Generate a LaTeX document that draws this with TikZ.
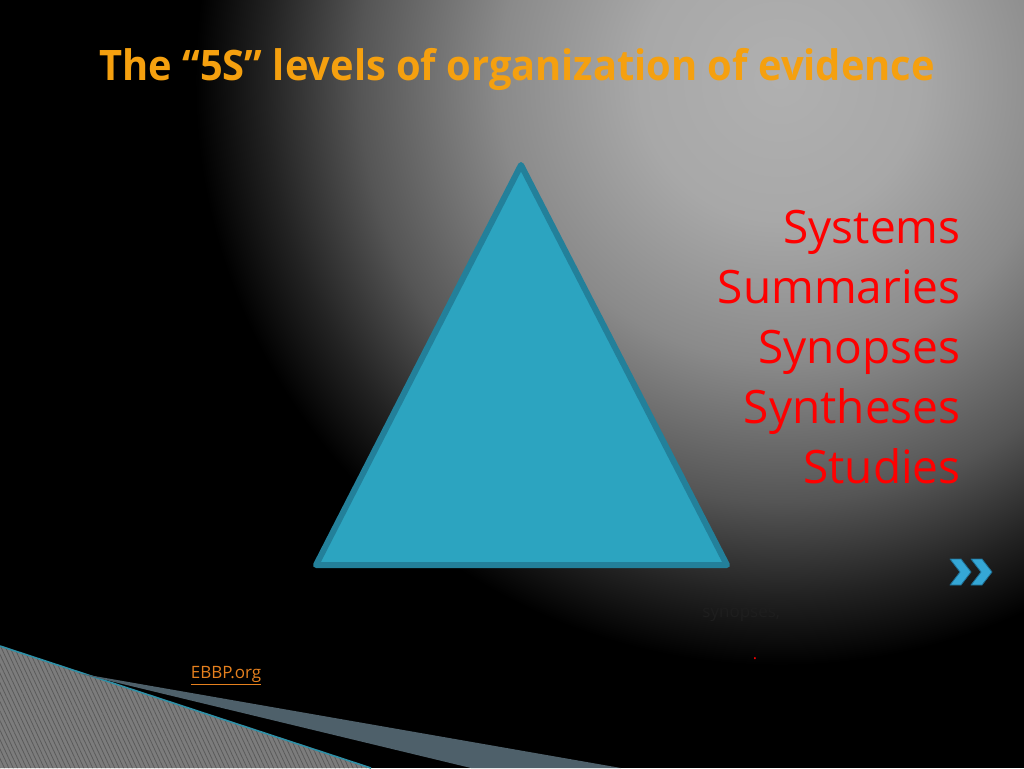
\documentclass[tikz,border=0pt]{standalone}
\usepackage{fontspec}
\setmainfont{Open Sans}
\usetikzlibrary{matrix, patterns.meta}

\definecolor{titleorange}{HTML}{F5A00F}
\definecolor{pyramidfill}{HTML}{2CA4C0}
\definecolor{pyramidedge}{HTML}{23809A}
\definecolor{levelred}{HTML}{FF0000}
\definecolor{slatestrip}{HTML}{4E606A}
\definecolor{hatchgrey}{HTML}{7C7C7C}
\definecolor{hatchline}{HTML}{5A5A5A}
\definecolor{rimteal}{HTML}{2E8FA6}
\definecolor{linkorange}{HTML}{E5801E}
\definecolor{chevblue}{HTML}{35A7D6}
\definecolor{chevedge}{HTML}{1E6E93}
\definecolor{faintgrey}{HTML}{1E1E1E}
\definecolor{glowA}{HTML}{B0B0B0}
\definecolor{glowB}{HTML}{A8A8A8}
\definecolor{glowC}{HTML}{8A8A8A}
\definecolor{glowD}{HTML}{555555}
\definecolor{glowE}{HTML}{222222}

\pgfdeclareradialshading{bgglow}{\pgfpoint{0bp}{0bp}}{color(0bp)=(glowA); color(6bp)=(glowB); color(12bp)=(glowC); color(18bp)=(glowD); color(22bp)=(glowE); color(25bp)=(black); color(50bp)=(black)}

\begin{document}
\begin{tikzpicture}[x=0.5pt, y=-0.5pt,
  level/.style={text=levelred, font=\fontsize{23}{28}\selectfont, inner sep=0pt, text height=17pt, text depth=5pt, anchor=east}]
\useasboundingbox (0,0) rectangle (1024,768);
\begin{scope}
\clip (0,0) rectangle (1024,768);
\fill[black] (0,0) rectangle (1024,768);
\shade[shading=bgglow] (780,80) circle[radius=585];
% bottom left decoration
\fill[hatchgrey] (0,646) -- (371,768) -- (0,768) -- cycle;
\fill[pattern={Lines[angle=115, distance=2pt, line width=0.4pt]}, pattern color=hatchline] (0,646) -- (371,768) -- (0,768) -- cycle;
\draw[rimteal, line width=0.8pt] (0,646) -- (371,768);
\fill[slatestrip] (77,673) -- (621,768) -- (471,768) -- cycle;
\end{scope}

\node[anchor=base west, inner sep=0pt, text=titleorange, font=\fontsize{21}{25}\bfseries] (title) at (99,80) {\scalebox{0.948}[1]{The “5S” levels of organization of evidence}};

% pyramid
\coordinate (apex) at (521,165);
\coordinate (baseL) at (316,565);
\coordinate (baseR) at (727,565);
\draw[fill=pyramidfill, draw=pyramidedge, line width=3pt, line join=round] (apex) -- (baseR) -- (baseL) -- cycle;

\matrix (levels) [matrix of nodes, nodes={level}, row sep=8pt, inner sep=0pt, anchor=north east] at (961,209) {
Systems\\
Summaries\\
Synopses\\
Syntheses\\
Studies\\
};

% next arrows
\foreach \dx in {0,21}{
\draw[fill=chevblue, draw=chevedge, line width=0.4pt, line join=round] (950+\dx,559) -- (961+\dx,559) -- (971+\dx,572) -- (961+\dx,585) -- (950+\dx,585) -- (960+\dx,572) -- cycle;
}

\node[anchor=base west, inner sep=0pt, text=faintgrey, font=\fontsize{8.5}{10}\selectfont] (syn) at (702,617) {synopses,};
\node[anchor=base, inner sep=0pt, text=levelred, font=\fontsize{8}{10}\selectfont] (dot) at (755,659) {.};
\node[anchor=base, inner sep=0pt, text=linkorange, font=\fontsize{8.5}{10}\selectfont] (link) at (226,678) {\underline{EBBP.org}};
\end{tikzpicture}
\end{document}
